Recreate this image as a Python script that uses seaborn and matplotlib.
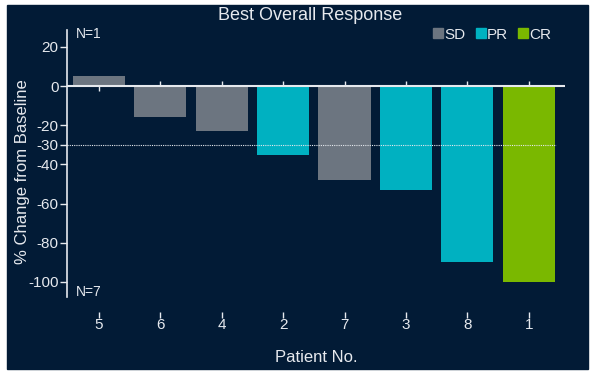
import numpy as np
import pandas as pd
import matplotlib
matplotlib.use("Agg")
import matplotlib.pyplot as plt
from matplotlib.patches import Rectangle
from matplotlib.lines import Line2D
import seaborn as sns

# Daten
patients = ["5", "6", "4", "2", "7", "3", "8", "1"]
change = [5, -16, -23, -35, -48, -53, -90, -100]
response = ["SD", "SD", "SD", "PR", "SD", "PR", "PR", "CR"]
resp_order = ["SD", "PR", "CR"]
resp_colors = ["#6c7580", "#00b1c1", "#7ab800"]
yticks = [20, 0, -20, -30, -40, -60, -80, -100]

df = pd.DataFrame({"Patient": patients, "Change": change, "Response": response})

bg = "#021b36"
fg = "#e6e9ee"

sns.set_style("white")
plt.rcParams["font.family"] = ["Liberation Sans", "DejaVu Sans"]
plt.rcParams["axes.unicode_minus"] = False

fig = plt.figure(figsize=(5.94, 3.74), dpi=100, facecolor="white")
# dunkler Hintergrund mit weissem Rand
fig.patches.append(Rectangle((7 / 594, 1 - 369 / 374), 581 / 594, 364 / 374,
                             transform=fig.transFigure, color=bg, zorder=-10))
ax = fig.add_axes([67 / 594, 1 - 297 / 374, 498 / 594, 267 / 374])
ax.set_facecolor(bg)

sns.barplot(data=df, x="Patient", y="Change", hue="Response", order=patients,
            hue_order=resp_order, palette=resp_colors, dodge=False, width=0.85,
            saturation=1, linewidth=0, legend=False, ax=ax, zorder=2)

ax.set_xlim(-0.52, 7.59)
ax.set_ylim(-107.7, 28.6)

# Nulllinie und -30 Linie
ax.axhline(0, color=fg, lw=1.5, zorder=3)
ax.hlines(-30, -0.52, 7.45, colors=fg, linestyles=(0, (1, 1)), lw=0.8, zorder=3)
# kleine Ticks an der Nulllinie
pos = np.arange(len(patients))
sgn = -np.sign(change)
ax.vlines(pos, 0, sgn * 2.5, colors=fg, lw=1, zorder=3)

# Achsen
for s in ["top", "right", "bottom"]:
    ax.spines[s].set_visible(False)
ax.spines["left"].set_color(fg)
ax.spines["left"].set_linewidth(1.2)
ax.spines["bottom"].set_position(("outward", 11))
ax.set_yticks(yticks)
ax.tick_params(axis="y", left=True, colors=fg, labelsize=11, length=5, width=1,
               direction="out", pad=1)
ax.tick_params(axis="x", bottom=True, colors=fg, labelsize=11, length=4, width=1,
               direction="out", pad=0)

ax.set_xlabel("Patient No.", color=fg, fontsize=12)
ax.xaxis.set_label_coords(0.5, -0.2)
ax.set_ylabel("% Change from Baseline", color=fg, fontsize=12)
ax.yaxis.set_label_coords(-0.075, 0.47)

fig.text(310 / 594, 1 - 16 / 374, "Best Overall Response", color=fg, fontsize=13,
         ha="center", va="center")
ax.text(0.018, 0.985, "N=1", transform=ax.transAxes, color=fg, fontsize=10, va="center")
ax.text(0.018, 0.017, "N=7", transform=ax.transAxes, color=fg, fontsize=10, va="center")

handles = [Line2D([], [], marker="s", ls="", color=c, markersize=7) for c in resp_colors]
leg = ax.legend(handles, resp_order, loc="upper right", bbox_to_anchor=(1.0, 1.06),
                ncol=3, frameon=False, handletextpad=0.0, columnspacing=0.6,
                handlelength=0.8, fontsize=11)
for t in leg.get_texts():
    t.set_color(fg)

plt.savefig("out.png", dpi=100, facecolor="white")
plt.close()
